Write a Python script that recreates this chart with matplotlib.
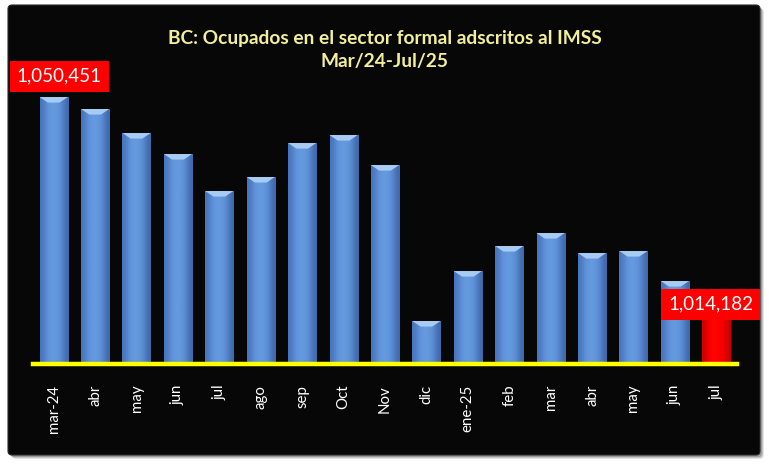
import numpy as np
import matplotlib
matplotlib.use("Agg")
import matplotlib.pyplot as plt
from matplotlib.patches import FancyBboxPatch, Polygon

plt.rcParams['font.family'] = ['Lato', 'DejaVu Sans']

# Data
months = ['mar-24', 'abr', 'may', 'jun', 'jul', 'ago', 'sep', 'Oct', 'Nov',
          'dic', 'ene-25', 'feb', 'mar', 'abr', 'may', 'jun', 'jul']
workers = [1050451, 1048190, 1043650, 1039680, 1032690, 1035340, 1041760,
           1043270, 1037600, 1008125, 1017570, 1022300, 1024750, 1020975,
           1021350, 1015680, 1014182]
y_min, y_max = 1000000, 1060000

title = 'BC: Ocupados en el sector formal adscritos al IMSS\nMar/24-Jul/25'

fig = plt.figure(figsize=(7.69, 4.68), dpi=100)
fig.patch.set_facecolor('white')

# soft shadow + black rounded panel (inch coords)
for k, a in enumerate([0.10, 0.14, 0.20]):
    off = 0.04 - k * 0.01
    sh = FancyBboxPatch((0.08 + off, 0.13 - off), 7.52, 4.50,
                        boxstyle='round,pad=0,rounding_size=0.04',
                        transform=fig.dpi_scale_trans, facecolor='black',
                        edgecolor='none', alpha=a, zorder=-2)
    fig.patches.append(sh)
panel = FancyBboxPatch((0.08, 0.13), 7.52, 4.50,
                       boxstyle='round,pad=0,rounding_size=0.04',
                       transform=fig.dpi_scale_trans, facecolor='#070707',
                       edgecolor='#2a2a2a', linewidth=0.8, zorder=-1)
fig.patches.append(panel)

fig.text(0.5, 1 - 50 / 468, title, ha='center', va='center', color='#F3EE9A',
         fontsize=13.8, fontweight='bold', linespacing=1.45)

ax = fig.add_axes([33 / 769, 104 / 468, 704 / 769, 317.5 / 468])
ax.set_facecolor('none')
ax.set_zorder(2)

x = np.arange(len(months))
w = 0.68
colors = ['#5B8ED7'] * (len(months) - 1) + ['#FF0000']
bars = ax.bar(x, workers, width=w, color=colors, edgecolor='none', zorder=2)

# horizontal shading on each bar + bevelled top on the blue ones
blue_grad = np.array([[0.28, 0.46, 0.74], [0.37, 0.57, 0.85], [0.40, 0.61, 0.88],
                      [0.39, 0.60, 0.87], [0.35, 0.54, 0.82], [0.25, 0.41, 0.67]])
red_grad = np.array([[0.80, 0.0, 0.0], [1.0, 0.0, 0.0], [1.0, 0.02, 0.02],
                     [1.0, 0.0, 0.0], [0.95, 0.0, 0.0], [0.78, 0.0, 0.0]])
bev = 1050
for i, b in enumerate(bars):
    grad = red_grad if i == len(bars) - 1 else blue_grad
    im = ax.imshow(grad[np.newaxis, :, :], extent=[x[i] - w / 2, x[i] + w / 2, y_min, workers[i]],
                   aspect='auto', interpolation='bicubic', zorder=2.5)
    im.set_clip_path(b)
    if i < len(bars) - 1:
        top = workers[i]
        ax.add_patch(Polygon([[x[i] - w / 2, top], [x[i] + w / 2, top],
                              [x[i] + w / 2 - 0.2, top - bev], [x[i] - w / 2 + 0.2, top - bev]],
                             closed=True, facecolor='#A8CBF3', edgecolor='none', zorder=3))

ax.set_xlim(-0.5, len(months) - 0.5)
ax.set_ylim(y_min, y_max)

for s in ['top', 'right', 'left']:
    ax.spines[s].set_visible(False)
ax.spines['bottom'].set_color('#FFFF00')
ax.spines['bottom'].set_linewidth(3.2)
ax.spines['bottom'].set_zorder(4)
ax.set_yticks([])
ax.set_xticks(x)
ax.set_xticklabels(months, rotation=90, color='white', fontsize=10.8)
ax.tick_params(axis='x', length=0, pad=15)

# value labels on first and last bar
lab_style = dict(color='white', fontsize=13.5, ha='center', va='center',
                 bbox=dict(boxstyle='square,pad=0.38', facecolor='#FF0000', edgecolor='none'),
                 zorder=6)
ax.annotate(f'{workers[0]:,}', (x[0], workers[0]), xytext=(4, 15),
            textcoords='offset points', **lab_style)
ax.annotate(f'{workers[-1]:,}', (x[-1], workers[-1]), xytext=(-4, -11),
            textcoords='offset points', **lab_style)

fig.savefig('out.png', dpi=100, facecolor=fig.get_facecolor())
